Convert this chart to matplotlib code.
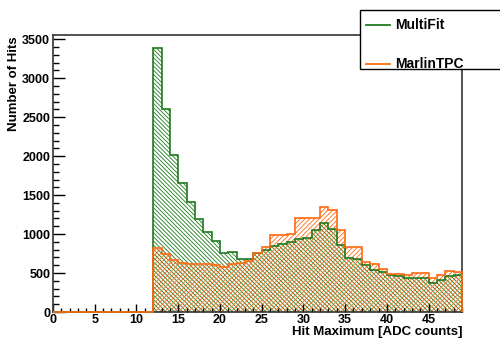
import numpy as np
import matplotlib.pyplot as plt
from matplotlib.patches import Rectangle
from matplotlib.lines import Line2D
from matplotlib.ticker import MultipleLocator

plt.rcParams['font.family'] = ['Liberation Sans', 'DejaVu Sans']
plt.rcParams['font.weight'] = 'bold'
plt.rcParams['hatch.linewidth'] = 0.6

# bin edges 0..49, one ADC count per bin
edges = np.arange(0, 50)

# counts per bin (bins 0-11 empty)
multifit = [0] * 12 + [
    3385, 2606, 2010, 1660, 1409, 1196, 1026, 911, 755, 770,
    685, 685, 760, 792, 847, 869, 898, 935, 950, 1056,
    1145, 1060, 856, 694, 685, 600, 536, 515, 473, 460,
    430, 430, 430, 366, 409, 460, 473]
marlintpc = [0] * 12 + [
    826, 750, 664, 630, 613, 613, 610, 600, 579, 622,
    630, 655, 758, 834, 983, 983, 996, 1209, 1205, 1200,
    1345, 1315, 1056, 830, 830, 643, 613, 549, 494, 486,
    475, 502, 502, 430, 473, 528, 507]

green = '#1f7a1f'
orange = '#ff6a10'

fig = plt.figure(figsize=(5.0, 3.42), dpi=100)
ax = fig.add_axes([0.106, 0.0877, 0.818, 0.81])

# hatched fills, then outlines
ax.stairs(multifit, edges, fill=True, facecolor='none', edgecolor=green,
          hatch='\\' * 8, linewidth=0)
ax.stairs(marlintpc, edges, fill=True, facecolor='none', edgecolor=orange,
          hatch='/' * 7, linewidth=0)
ax.stairs(multifit, edges, color=green, linewidth=1.2, zorder=3, clip_on=False)
ax.stairs(marlintpc, edges, color=orange, linewidth=1.2, zorder=3, clip_on=False)

ax.set_xlim(0, 49)
ax.set_ylim(0, max(multifit) * 1.05)

ax.xaxis.set_major_locator(MultipleLocator(5))
ax.xaxis.set_minor_locator(MultipleLocator(1))
ax.yaxis.set_major_locator(MultipleLocator(500))
ax.yaxis.set_minor_locator(MultipleLocator(100))
ax.tick_params(axis='both', which='both', direction='in', top=False, right=False,
               labelsize=9, width=1)
ax.tick_params(axis='x', which='major', length=6, pad=1.5)
ax.tick_params(axis='x', which='minor', length=3)
ax.tick_params(axis='y', which='major', length=8.5, pad=2)
ax.tick_params(axis='y', which='minor', length=4.3)
for lab in ax.get_xticklabels() + ax.get_yticklabels():
    lab.set_fontweight('bold')
for s in ax.spines.values():
    s.set_linewidth(1.2)
    s.set_color('#333333')

fig.text(0.924, 1 - 326 / 342, 'Hit Maximum [ADC counts]', ha='right', va='top',
         fontsize=9.5, fontweight='bold')
fig.text(14 / 500, 1 - 36 / 342, 'Number of Hits', rotation=90, ha='center', va='top',
         fontsize=9.5, fontweight='bold')

# legend box in figure coordinates
fig.patches.append(Rectangle((360 / 500, 1 - 69 / 342), 0.3, 59 / 342,
                             transform=fig.transFigure, facecolor='white',
                             edgecolor='black', linewidth=1, zorder=5))
for yy, col, name in [(25, green, 'MultiFit'), (64, orange, 'MarlinTPC')]:
    fig.lines.append(Line2D([366 / 500, 390 / 500], [1 - yy / 342] * 2,
                            transform=fig.transFigure, color=col, linewidth=1.3, zorder=6))
    fig.text(395 / 500, 1 - yy / 342, name, ha='left', va='center',
             fontsize=10, fontweight='bold', zorder=6)

fig.savefig('out.png', dpi=100)
